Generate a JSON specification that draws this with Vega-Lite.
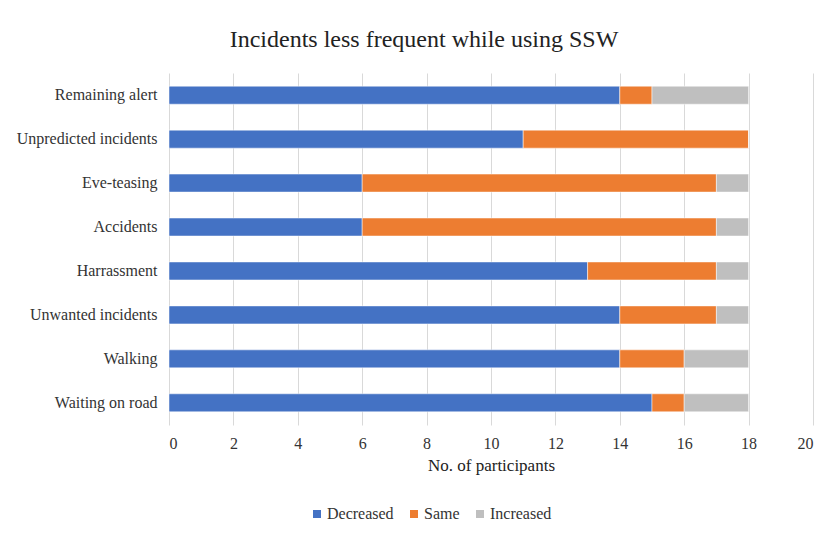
{
  "$schema": "https://vega.github.io/schema/vega-lite/v6.json",
  "width": 644,
  "height": 352,
  "autosize": {"type": "none"},
  "padding": {"left": 169, "top": 73, "right": 26, "bottom": 114},
  "background": "white",
  "title": {
    "text": "Incidents less frequent while using SSW",
    "font": "Liberation Serif",
    "fontSize": 24,
    "fontWeight": "normal",
    "color": "#222222",
    "anchor": "middle",
    "dx": -67,
    "offset": 21
  },
  "data": {
    "values": [
      {"item": "Remaining alert", "response": "Decreased", "k": 1, "n": 14},
      {"item": "Remaining alert", "response": "Same", "k": 2, "n": 1},
      {"item": "Remaining alert", "response": "Increased", "k": 3, "n": 3},
      {"item": "Unpredicted incidents", "response": "Decreased", "k": 1, "n": 11},
      {"item": "Unpredicted incidents", "response": "Same", "k": 2, "n": 7},
      {"item": "Unpredicted incidents", "response": "Increased", "k": 3, "n": 0},
      {"item": "Eve-teasing", "response": "Decreased", "k": 1, "n": 6},
      {"item": "Eve-teasing", "response": "Same", "k": 2, "n": 11},
      {"item": "Eve-teasing", "response": "Increased", "k": 3, "n": 1},
      {"item": "Accidents", "response": "Decreased", "k": 1, "n": 6},
      {"item": "Accidents", "response": "Same", "k": 2, "n": 11},
      {"item": "Accidents", "response": "Increased", "k": 3, "n": 1},
      {"item": "Harrassment", "response": "Decreased", "k": 1, "n": 13},
      {"item": "Harrassment", "response": "Same", "k": 2, "n": 4},
      {"item": "Harrassment", "response": "Increased", "k": 3, "n": 1},
      {"item": "Unwanted incidents", "response": "Decreased", "k": 1, "n": 14},
      {"item": "Unwanted incidents", "response": "Same", "k": 2, "n": 3},
      {"item": "Unwanted incidents", "response": "Increased", "k": 3, "n": 1},
      {"item": "Walking", "response": "Decreased", "k": 1, "n": 14},
      {"item": "Walking", "response": "Same", "k": 2, "n": 2},
      {"item": "Walking", "response": "Increased", "k": 3, "n": 2},
      {"item": "Waiting on road", "response": "Decreased", "k": 1, "n": 15},
      {"item": "Waiting on road", "response": "Same", "k": 2, "n": 1},
      {"item": "Waiting on road", "response": "Increased", "k": 3, "n": 2}
    ]
  },
  "mark": {"type": "bar", "stroke": "white", "strokeWidth": 0.5},
  "encoding": {
    "y": {
      "field": "item",
      "type": "nominal",
      "sort": ["Remaining alert", "Unpredicted incidents", "Eve-teasing", "Accidents", "Harrassment", "Unwanted incidents", "Walking", "Waiting on road"],
      "scale": {"paddingInner": 0.59, "paddingOuter": 0.3},
      "axis": {
        "title": null,
        "domain": false,
        "ticks": false,
        "labelPadding": 12,
        "labelFont": "Liberation Serif",
        "labelFontSize": 16,
        "labelColor": "#333333",
        "labelLimit": 300
      }
    },
    "x": {
      "field": "n",
      "type": "quantitative",
      "stack": "zero",
      "scale": {"domain": [0, 20], "nice": false},
      "axis": {
        "title": "No. of participants",
        "values": [0, 2, 4, 6, 8, 10, 12, 14, 16, 18, 20],
        "domain": false,
        "ticks": false,
        "grid": true,
        "gridColor": "#D9D9D9",
        "gridWidth": 1,
        "labelPadding": 10,
        "labelFont": "Liberation Serif",
        "labelFontSize": 16,
        "labelColor": "#333333",
        "titleFont": "Liberation Serif",
        "titleFontSize": 17,
        "titleFontWeight": "normal",
        "titleColor": "#222222",
        "titlePadding": 6
      }
    },
    "color": {
      "field": "response",
      "type": "nominal",
      "sort": ["Decreased", "Same", "Increased"],
      "scale": {"domain": ["Decreased", "Same", "Increased"], "range": ["#4472C4", "#ED7D31", "#BFBFBF"]},
      "legend": {
        "title": null,
        "orient": "none",
        "direction": "horizontal",
        "legendX": 140,
        "legendY": 433,
        "symbolType": "square",
        "symbolSize": 64,
        "symbolStrokeWidth": 0,
        "labelFont": "Liberation Serif",
        "labelFontSize": 16,
        "labelColor": "#333333",
        "labelOffset": 2,
        "columnPadding": 12
      }
    },
    "order": {"field": "k", "type": "quantitative"}
  },
  "config": {
    "font": "Liberation Serif",
    "view": {"stroke": null}
  }
}
